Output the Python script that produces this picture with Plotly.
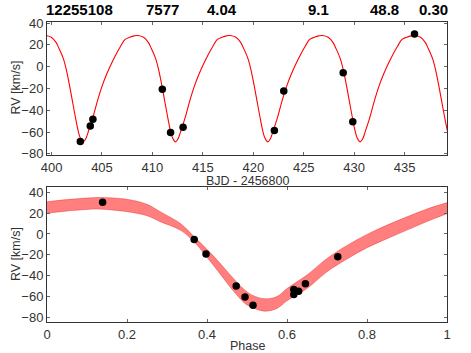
import plotly.graph_objects as go

# ---------------- data ----------------
HEADER_LABELS = ["12255108", "7577", "4.04", "9.1", "48.8", "0.30"]
HEADER_X = [0.08, 0.2875, 0.4375, 0.6787, 0.8425, 0.965]

# RV measurements (top panel, time domain)
rv_time = [402.85, 403.84, 404.10, 410.98, 411.80, 413.04, 422.09, 423.02, 428.91, 429.86, 435.98]
rv_time_vals = [-68.7, -54.3, -48.2, -20.7, -60.4, -55.5, -58.6, -22.3, -5.5, -50.4, 30.0]

# RV measurements (bottom panel, phase folded)
rv_phase = [0.139, 0.368, 0.3975, 0.473, 0.495, 0.515, 0.617, 0.617, 0.629, 0.646, 0.727]
rv_phase_vals = [30.4, -5.2, -19.3, -50.0, -60.4, -68.4, -53.3, -58.0, -55.0, -47.9, -21.9]

# orbit model curve, one cycle (phase, km/s)
curve_phase = [0.0, 0.05, 0.10, 0.14, 0.20, 0.25, 0.283, 0.333, 0.368, 0.3975, 0.425,
               0.4667, 0.495, 0.515, 0.545, 0.575, 0.60, 0.65, 0.70, 0.75, 0.80, 0.85, 0.90, 0.95]
curve_vals = [25.0, 27.0, 28.3, 28.6, 27.0, 22.5, 17.0, 7.0, -4.5, -17.0, -29.5,
              -48.5, -60.0, -65.5, -69.0, -66.0, -60.0, -47.0, -31.5, -18.0, -7.0, 2.5, 11.0, 18.5]
period_days = 9.15          # orbital period
phase_zero_bjd = 398.14     # BJD-2456800 of phase 0

# model uncertainty band in phase (upper / lower edge)
band_phase = [0.0, 0.05, 0.10, 0.133, 0.20, 0.25, 0.283, 0.333, 0.368, 0.3975, 0.425, 0.4667,
              0.495, 0.515, 0.545, 0.575, 0.60, 0.65, 0.70, 0.75, 0.80, 0.85, 0.90, 0.95, 1.0]
band_upper = [31.0, 33.0, 34.5, 35.0, 33.3, 28.5, 21.4, 10.2, -2.7, -13.8, -24.8, -43.0,
              -54.0, -59.0, -62.2, -60.0, -52.3, -39.4, -23.5, -11.0, -0.4, 8.5, 16.5, 24.0, 30.1]
band_lower = [19.8, 22.0, 23.5, 23.8, 21.4, 17.5, 11.8, 3.7, -7.5, -21.2, -34.5, -55.0,
              -66.7, -71.0, -74.1, -71.5, -64.2, -52.3, -36.3, -24.0, -13.2, -4.5, 3.7, 12.0, 19.5]

# place the model cycle on the time axis
curve_t, curve_v = [], []
for n in range(-1, 6):
    for p, v in zip(curve_phase, curve_vals):
        t = phase_zero_bjd + period_days * (n + p)
        if 396 <= t <= 443:
            curve_t.append(t)
            curve_v.append(v)

FONT = "Liberation Sans, Arial, Helvetica, sans-serif"
AX_COL = "#333333"

fig = go.Figure()

fig.add_trace(go.Scatter(x=curve_t, y=curve_v, mode="lines",
                         line=dict(color="#ff0000", width=1.1, shape="spline", smoothing=1.0),
                         xaxis="x", yaxis="y", showlegend=False, hoverinfo="skip"))
fig.add_trace(go.Scatter(x=rv_time, y=rv_time_vals, mode="markers",
                         marker=dict(color="black", size=7.5),
                         xaxis="x", yaxis="y", showlegend=False))

fig.add_trace(go.Scatter(x=band_phase, y=band_lower, mode="lines",
                         line=dict(color="rgba(230,0,0,0.55)", width=0.6, shape="spline"),
                         xaxis="x2", yaxis="y2", showlegend=False, hoverinfo="skip"))
fig.add_trace(go.Scatter(x=band_phase, y=band_upper, mode="lines", fill="tonexty",
                         fillcolor="rgba(255,0,0,0.5)",
                         line=dict(color="rgba(230,0,0,0.55)", width=0.6, shape="spline"),
                         xaxis="x2", yaxis="y2", showlegend=False, hoverinfo="skip"))
fig.add_trace(go.Scatter(x=rv_phase, y=rv_phase_vals, mode="markers",
                         marker=dict(color="black", size=7.5),
                         xaxis="x2", yaxis="y2", showlegend=False))

axis_common = dict(showline=True, linecolor=AX_COL, linewidth=1, mirror="ticks",
                   ticks="inside", ticklen=3, tickcolor="#666666", tickwidth=1,
                   showgrid=False, zeroline=False, automargin=False,
                   tickfont=dict(family=FONT, size=13, color="#333333"))

fig.update_layout(
    width=471, height=353,
    margin=dict(l=47, r=24, t=22, b=31, autoexpand=False),
    paper_bgcolor="white", plot_bgcolor="white",
    xaxis=dict(domain=[0, 1], anchor="y", range=[399.55, 439.2],
               tickvals=[400, 405, 410, 415, 420, 425, 430, 435], **axis_common),
    yaxis=dict(domain=[0.5567, 1.0], anchor="x", range=[-81, 41],
               tickvals=[-80, -60, -40, -20, 0, 20, 40], **axis_common),
    xaxis2=dict(domain=[0, 1], anchor="y2", range=[0, 1],
                tickvals=[0, 0.2, 0.4, 0.6, 0.8, 1],
                ticktext=["0", "0.2", "0.4", "0.6", "0.8", "1"], **axis_common),
    yaxis2=dict(domain=[0, 0.449], anchor="x2", range=[-84.5, 44.8],
                tickvals=[-80, -60, -40, -20, 0, 20, 40], **axis_common),
)

annotations = []
for lbl, xp in zip(HEADER_LABELS, HEADER_X):
    annotations.append(dict(text=lbl, x=xp, y=1.0417, xref="paper", yref="paper",
                            showarrow=False, xanchor="center", yanchor="middle",
                            font=dict(family=FONT, size=15, color="black", weight="bold")))
title_font = dict(family=FONT, size=12.5, color="#333333")
annotations.append(dict(text="BJD - 2456800", x=0.5, y=0.4700, xref="paper", yref="paper",
                        showarrow=False, xanchor="center", yanchor="middle", font=title_font))
annotations.append(dict(text="Phase", x=0.5, y=-0.0800, xref="paper", yref="paper",
                        showarrow=False, xanchor="center", yanchor="middle", font=title_font))
annotations.append(dict(text="RV [km/s]", x=-0.0775, y=0.7817, xref="paper", yref="paper",
                        showarrow=False, xanchor="center", yanchor="middle", textangle=-90,
                        font=title_font))
annotations.append(dict(text="RV [km/s]", x=-0.0775, y=0.2267, xref="paper", yref="paper",
                        showarrow=False, xanchor="center", yanchor="middle", textangle=-90,
                        font=title_font))
fig.update_layout(annotations=annotations)

fig.write_html("out.html",
               config={"displayModeBar": False},
               post_script="document.body.style.margin='0';document.body.style.padding='0';"
                           "document.body.style.overflow='hidden';")
